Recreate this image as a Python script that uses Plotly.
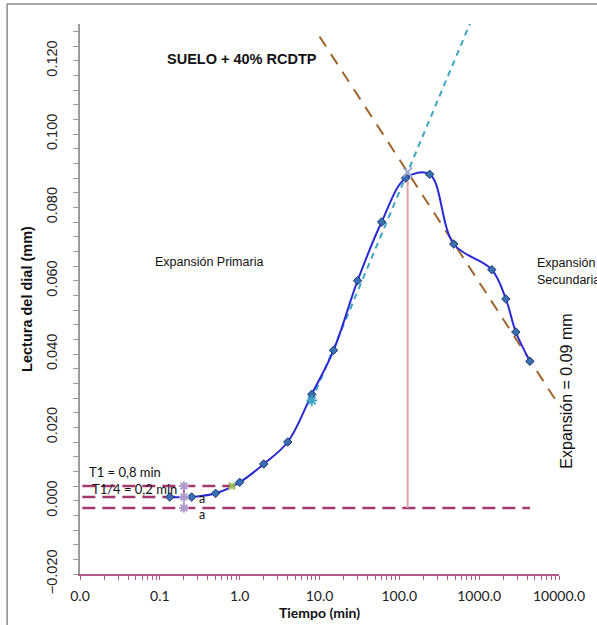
import plotly.graph_objects as go

# Lecturas del ensayo de expansión: tiempo (min) vs lectura del dial (mm)
tiempo = [0.133, 0.25, 0.5, 1, 2, 4, 8, 15, 30, 60, 120, 240, 480, 1440, 2160, 2880, 4320]
lectura = [0.001, 0.001, 0.002, 0.005, 0.010, 0.016, 0.029, 0.041, 0.060, 0.076,
           0.088, 0.089, 0.070, 0.063, 0.055, 0.046, 0.038]

# Tangentes de expansión primaria y secundaria
tan1_t = [8, 1000]
tan1_y = [0.0273, 0.1361]
tan2_t = [10, 9500]
tan2_y = [0.1266, 0.0268]

# Punto de intersección de las tangentes
inter_t = 127
inter_y = 0.0896

# Construcción de T1 y T1/4
t1 = 0.8
t1_y = 0.004
t14 = 0.2
t14_y = 0.001
cero_y = -0.002
t_ini = 0.0107
t_fin = 4320
tan1_pt_t = 8
tan1_pt_y = 0.0273

# Ejes
x_decadas = [0.01, 0.1, 1, 10, 100, 1000, 10000]
x_etiquetas = ["0.0", "0.1", "1.0", "10.0", "100.0", "1000.0", "10000.0"]

PURPLE = "#a3386f"
LAX = 80
PW, PH = 480, 552
PT = 24


def px_x(p):
    return (p - LAX) / PW


def px_y(p):
    return (PT + PH - p) / PH


fig = go.Figure()

# Líneas horizontales de construcción
for xs, ys in [([t_ini, t1], [t1_y, t1_y]),
               ([t_ini, t14], [t14_y, t14_y]),
               ([t_ini, t_fin], [cero_y, cero_y])]:
    fig.add_trace(go.Scatter(x=xs, y=ys, mode="lines",
                             line=dict(color=PURPLE, width=2.5, dash="13px,7px"),
                             showlegend=False, hoverinfo="skip"))

# Tangente primaria
fig.add_trace(go.Scatter(x=tan1_t, y=tan1_y, mode="lines",
                         line=dict(color="#3ea6c2", width=2, dash="6px,5px"),
                         showlegend=False))
# Tangente secundaria
fig.add_trace(go.Scatter(x=tan2_t, y=tan2_y, mode="lines",
                         line=dict(color="#a0652d", width=2, dash="12px,9px"),
                         showlegend=False))

# Vertical desde la intersección
fig.add_trace(go.Scatter(x=[inter_t, inter_t], y=[cero_y, inter_y], mode="lines",
                         line=dict(color="#e3a3a6", width=2), showlegend=False))

# Segmentos "a"
fig.add_trace(go.Scatter(x=[t14, t14], y=[t1_y, t14_y], mode="lines",
                         line=dict(color="#94408c", width=2), showlegend=False))
fig.add_trace(go.Scatter(x=[t14, t14], y=[t14_y, cero_y], mode="lines",
                         line=dict(color="#a8a8ee", width=2), showlegend=False))

# Curva de expansión
fig.add_trace(go.Scatter(x=tiempo, y=lectura, mode="lines+markers",
                         line=dict(color="#2a2ad4", width=2, shape="spline", smoothing=1),
                         marker=dict(symbol="diamond", size=6.5, color="#3a6fb3",
                                     line=dict(color="#1a3670", width=1)),
                         showlegend=False))

# Marcadores auxiliares
fig.add_trace(go.Scatter(x=[t14, t14, t14], y=[t1_y, t14_y, cero_y], mode="markers",
                         marker=dict(symbol="asterisk-open", size=8, color="#b09ccc",
                                     line=dict(color="#b09ccc", width=2)),
                         showlegend=False))
fig.add_trace(go.Scatter(x=[t1], y=[t1_y], mode="markers",
                         marker=dict(symbol="x", size=7, color="#9bbb59",
                                     line=dict(width=0)),
                         showlegend=False))
fig.add_trace(go.Scatter(x=[tan1_pt_t], y=[tan1_pt_y], mode="markers",
                         marker=dict(symbol="asterisk-open", size=9, color="#3ea6c2",
                                     line=dict(color="#3ea6c2", width=2)),
                         showlegend=False))
fig.add_trace(go.Scatter(x=[inter_t], y=[inter_y], mode="markers",
                         marker=dict(symbol="x-thin-open", size=9, color="#97acd0",
                                     line=dict(color="#97acd0", width=2)),
                         showlegend=False))

# Marcas de eje x (décadas con etiqueta, subdivisiones sin etiqueta)
x_tickvals, x_ticktext = [], []
for i, d in enumerate(x_decadas):
    x_tickvals.append(d)
    x_ticktext.append(x_etiquetas[i])
    if d < 10000:
        for m in range(2, 10):
            x_tickvals.append(d * m)
            x_ticktext.append("")

fig.update_xaxes(type="log", range=[-2, 4], tickvals=x_tickvals, ticktext=x_ticktext,
                 showline=True, linecolor="#b4588a", linewidth=1.5,
                 ticks="outside", ticklen=4, tickcolor="#b4588a", tickwidth=1,
                 ticklabelstandoff=4,
                 showgrid=False, zeroline=False,
                 tickfont=dict(family="Lato", size=14, color="#222"),
                 title=dict(text="<b>Tiempo (min)</b>", standoff=0,
                            font=dict(family="Lato", size=14, color="#111")))

fig.update_yaxes(range=[-0.02, 0.13], tick0=0, dtick=0.02, tickformat=".3f",
                 tickangle=-90,
                 showline=True, linecolor="#9a9a9a", linewidth=1.5,
                 ticks="outside", ticklen=5, tickcolor="#9a9a9a",
                 ticklabelstandoff=10,
                 minor=dict(dtick=0.004, ticks="outside", ticklen=5, tickcolor="#9a9a9a"),
                 showgrid=False, zeroline=False,
                 tickfont=dict(family="Liberation Sans, Arial", size=14.5, color="#222"),
                 title=dict(text="<b>Lectura del dial (mm)</b>", standoff=8,
                            font=dict(family="Liberation Sans, Arial", size=14.5, color="#111")))

ann_font = dict(family="Liberation Sans, Arial", size=12.5, color="#111")
cal_font = dict(family="Lato", size=13, color="#111")
a_font = dict(family="Lato", size=12.5, color="#111")
annotations = [
    dict(text="<b>SUELO + 40% RCDTP</b>", x=px_x(165), y=px_y(59), xanchor="left",
         yanchor="middle", font=dict(family="Liberation Sans, Arial", size=14.5, color="#111")),
    dict(text="Expansión Primaria", x=px_x(209), y=px_y(263), xanchor="center",
         yanchor="middle", font=ann_font),
    dict(text="Expansión", x=px_x(536), y=px_y(264), xanchor="left",
         yanchor="middle", font=ann_font),
    dict(text="Secundaria", x=px_x(536), y=px_y(281), xanchor="left",
         yanchor="middle", font=ann_font),
    dict(text="Expansión = 0.09 mm", x=px_x(568), y=px_y(392), xanchor="center",
         yanchor="middle", textangle=-90,
         font=dict(family="Liberation Sans, Arial", size=16, color="#111")),
    dict(text="T1 = 0,8 min", x=px_x(87), y=px_y(474), xanchor="left",
         yanchor="middle", font=cal_font),
    dict(text="T1/4 = 0,2 min", x=px_x(90), y=px_y(491), xanchor="left",
         yanchor="middle", font=cal_font),
    dict(text="a", x=px_x(198), y=px_y(500), xanchor="left",
         yanchor="middle", font=a_font, borderpad=0),
    dict(text="a", x=px_x(198), y=px_y(516), xanchor="left",
         yanchor="middle", font=a_font, borderpad=0),
]
for a in annotations:
    a.update(xref="paper", yref="paper", showarrow=False)

fig.update_layout(
    width=597, height=625,
    margin=dict(l=80, r=37, t=24, b=49),
    plot_bgcolor="white", paper_bgcolor="white",
    annotations=annotations,
    shapes=[dict(type="rect", xref="paper", yref="paper",
                 x0=px_x(7), x1=px_x(602), y0=px_y(630), y1=px_y(4),
                 line=dict(color="#8c8c8c", width=1.5), layer="below")],
)

fig.write_html("out.html")
